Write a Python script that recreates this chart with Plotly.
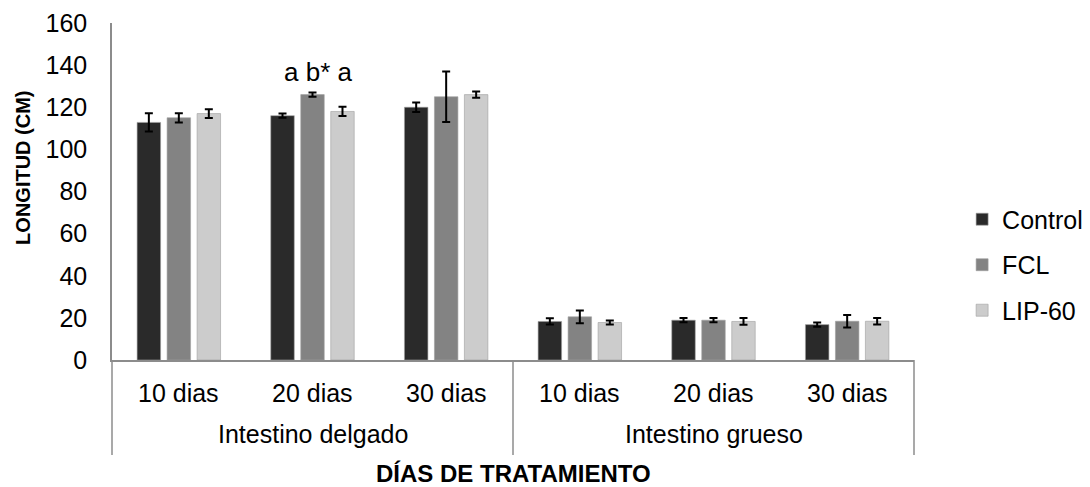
import plotly.graph_objects as go

outer_groups = ["Intestino delgado", "Intestino grueso"]
inner_days = ["10 dias", "20 dias", "30 dias"]
outer = [g for g in outer_groups for _ in inner_days]
inner = inner_days * len(outer_groups)

series = ["Control", "FCL", "LIP-60"]
control = [112.8, 116.0, 120.0, 18.3, 18.9, 16.8]
control_err = [4.3, 1.0, 2.2, 1.5, 1.0, 1.0]
fcl = [115.0, 126.0, 125.0, 20.5, 18.9, 18.4]
fcl_err = [2.2, 1.0, 12.0, 3.0, 1.0, 3.0]
lip = [117.0, 118.0, 126.0, 17.8, 18.3, 18.4]
lip_err = [2.1, 2.2, 1.5, 1.0, 1.6, 1.5]

colors = ["#2a2a2a", "#838383", "#cccccc"]
values = [control, fcl, lip]
errors = [control_err, fcl_err, lip_err]

FONT = "Liberation Sans, Arial, sans-serif"
AXIS_COLOR = "#8c8c8c"

fig = go.Figure()
for name, v, e, c in zip(series, values, errors, colors):
    fig.add_trace(go.Bar(
        x=[outer, inner], y=v, name=name, legendgroup=name,
        marker=dict(color=c, line=dict(color="#a0a0a0", width=0.6)),
        error_y=dict(type="data", array=e, visible=True, color="black",
                     thickness=2, width=4),
    ))

n = len(inner)
# inner category labels
for i, lab in enumerate(inner):
    fig.add_annotation(x=(i + 0.5) / n, y=-0.098, xref="paper", yref="paper",
                       text=lab, showarrow=False, xanchor="center", yanchor="middle",
                       font=dict(family=FONT, size=25, color="black"))
# outer group labels
for j, g in enumerate(outer_groups):
    fig.add_annotation(x=(j + 0.5) / len(outer_groups), y=-0.22, xref="paper", yref="paper",
                       text=g, showarrow=False, xanchor="center", yanchor="middle",
                       font=dict(family=FONT, size=25, color="black"))
# group dividers
for k in range(len(outer_groups) + 1):
    xd = k / len(outer_groups)
    fig.add_shape(type="line", xref="paper", yref="paper", x0=xd, x1=xd, y0=0, y1=-0.282,
                  line=dict(color=AXIS_COLOR, width=1.5))

fig.add_annotation(x=0.257, y=136.7, xref="paper", yref="y", text="a b* a",
                   showarrow=False, xanchor="center", yanchor="middle",
                   font=dict(family=FONT, size=26, color="black"))
fig.add_annotation(x=-0.111, y=0.570, xref="paper", yref="paper",
                   text="<b>LONGITUD (CM)</b>", textangle=-90, showarrow=False,
                   xanchor="center", yanchor="middle",
                   font=dict(family=FONT, size=20, color="black"))
fig.add_annotation(x=0.5, y=-0.338, xref="paper", yref="paper",
                   text="<b>DÍAS DE TRATAMIENTO</b>", showarrow=False,
                   xanchor="center", yanchor="middle",
                   font=dict(family=FONT, size=24, color="black"))

fig.update_layout(
    width=1082, height=479,
    margin=dict(l=104, r=176, t=15, b=127, autoexpand=False),
    paper_bgcolor="white", plot_bgcolor="white",
    barmode="group", bargap=0.327, bargroupgap=0.217,
    font=dict(family=FONT, size=25, color="black"),
    showlegend=True,
    legend=dict(x=1.06, y=0.282, xanchor="left", yanchor="middle",
                traceorder="grouped", tracegroupgap=10,
                font=dict(family=FONT, size=25, color="black")),
)
fig.update_yaxes(range=[0, 160], dtick=20, showgrid=False, zeroline=False,
                 showline=True, linecolor=AXIS_COLOR, linewidth=1.5,
                 ticks="", ticklabelstandoff=18, automargin=False,
                 tickfont=dict(family=FONT, size=25, color="black"))
fig.update_xaxes(showgrid=False, showline=True, linecolor=AXIS_COLOR, linewidth=1.5,
                 showticklabels=False, showdividers=False, ticks="", automargin=False)

fig.write_html("out.html")
